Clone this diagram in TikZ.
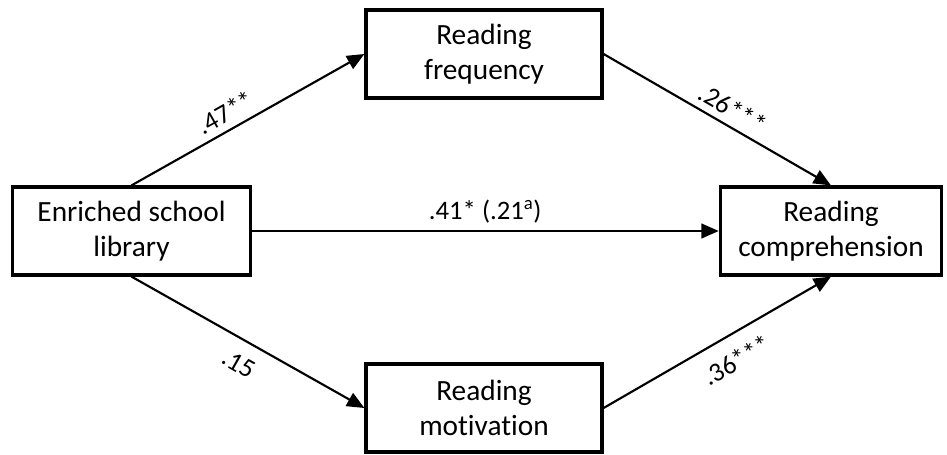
\documentclass[tikz,border=0pt]{standalone}
\usepackage{fontspec}
\setmainfont[Ligatures=NoCommon]{Carlito}
\usetikzlibrary{arrows.meta}

\begin{document}
\begin{tikzpicture}[x=0.75pt,y=-0.75pt,>={Triangle[length=13pt,width=11pt]},
  varbox/.style={draw,line width=2.4pt,minimum height=66pt,align=center,font=\fontsize{22}{26}\selectfont},
  path/.style={->,line width=1.6pt},
  coef/.style={font=\fontsize{20}{22}\selectfont,sloped,inner sep=2pt}]
\useasboundingbox (0,0) rectangle (947,454);

% Variables
\node[varbox,minimum width=178pt] (lib)  at (131.5,231) {Enriched school\\library};
\node[varbox,minimum width=177pt] (freq) at (484,54)    {Reading\\frequency};
\node[varbox,minimum width=177pt] (mot)  at (484,408)   {Reading\\motivation};
\node[varbox,minimum width=166pt] (comp) at (831,231)   {Reading\\comprehension};

% Paths
\draw[path] (lib.north) -- (freq.west) node[coef,above=3pt,pos=0.44] {.47**};
\draw[path] (freq.east) -- (comp.north) node[coef,above=3pt,pos=0.53] {.26***};
\draw[path] (lib.east) -- (comp.west) node[coef,above=3pt,pos=0.5] {.41* (.21\textsuperscript{a})};
\draw[path] (lib.south) -- (mot.west) node[coef,below=8pt,pos=0.51] {.15};
\draw[path] (mot.east) -- (comp.south) node[coef,below=9pt,pos=0.53] {.36***};
\end{tikzpicture}
\end{document}
